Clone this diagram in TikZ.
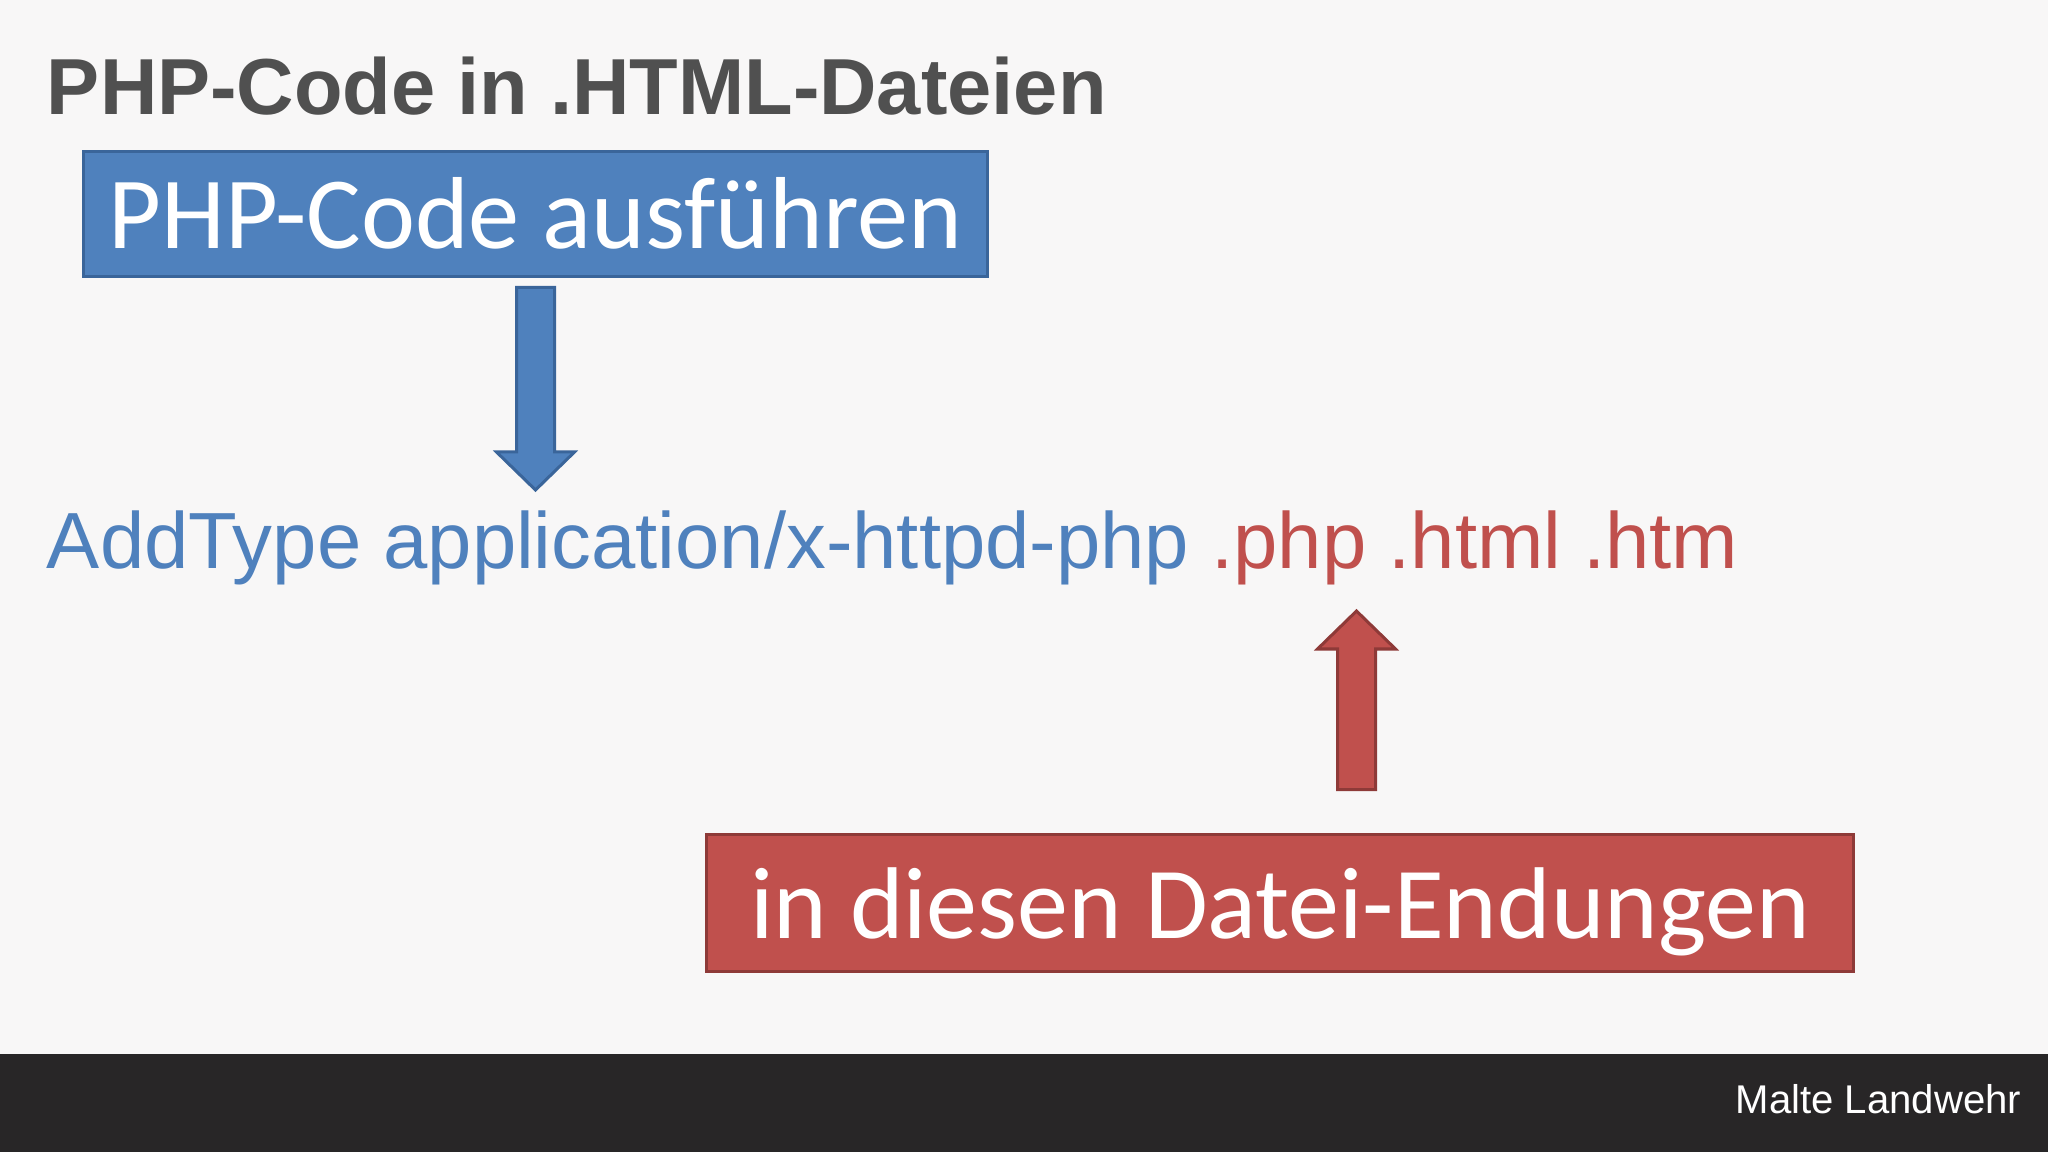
\documentclass[tikz,border=0pt]{standalone}
\usepackage{fontspec}
\setmainfont{Liberation Sans}
\newfontfamily\calibri{Carlito}
\usetikzlibrary{calc}
\definecolor{bg}{HTML}{F8F7F7}
\definecolor{bar}{HTML}{282627}
\definecolor{titlegray}{HTML}{505050}
\definecolor{bluef}{HTML}{4F81BD}
\definecolor{blued}{HTML}{3A659A}
\definecolor{redf}{HTML}{C0504D}
\definecolor{redd}{HTML}{8E3A38}
\tikzset{
  box/.style={inner xsep=0pt, inner ysep=0pt, line width=0.035cm, text=white, font=\calibri},
  blockarrow/.style={line width=0.03cm, line join=miter},
  plain/.style={inner sep=0pt, outer sep=0pt}
}
\begin{document}
\begin{tikzpicture}[x=0.01cm,y=-0.01cm]
\fill[bg] (0,0) rectangle (2048,1152);
\fill[bar] (0,1054) rectangle (2048,1152);
\useasboundingbox (0,0) rectangle (2048,1152);

\node[plain, anchor=base west, text=titlegray, font=\fontsize{22.6}{27}\selectfont\bfseries] (title) at (47,115) {PHP-Code in .HTML-Dateien};

\node[box, fill=bluef, draw=blued, minimum width=9.035cm, text height=0.965cm, text depth=0.285cm, font=\calibri\fontsize{29.1}{34}\selectfont] (exec) at (535.5,214) {PHP-Code ausführen};

\node[plain, anchor=base west, font=\fontsize{22.65}{27}\selectfont] (cmd) at (47,569) {\textcolor{bluef}{AddType application/x-httpd-php} \textcolor{redf}{.php .html .htm}};

\node[box, fill=redf, draw=redd, minimum width=11.465cm, text height=1.035cm, text depth=0.335cm, font=\calibri\fontsize{29.0}{34}\selectfont] (ext) at (1280,903) {in diesen Datei-Endungen};

\node[plain, anchor=base east, text=white, font=\fontsize{11.4}{14}\selectfont] (author) at (2021,1113) {Malte Landwehr};

% blue block arrow
\coordinate (b1) at ($(exec.south)+(0,9)$);
\coordinate (b2) at (535.5,490);
\draw[blockarrow, fill=bluef, draw=blued]
  ($(b1)+(-19,0)$) -- ($(b1)+(19,0)$) -- ($(b2)+(19,-38)$) -- ($(b2)+(39,-38)$) -- (b2)
  -- ($(b2)+(-39,-38)$) -- ($(b2)+(-19,-38)$) -- cycle;

% red block arrow
\coordinate (r1) at ($(ext.north)+(76.5,-43)$);
\coordinate (r2) at (1356.5,611);
\draw[blockarrow, fill=redf, draw=redd]
  ($(r1)+(-19,0)$) -- ($(r1)+(19,0)$) -- ($(r2)+(19,38)$) -- ($(r2)+(39,38)$) -- (r2)
  -- ($(r2)+(-39,38)$) -- ($(r2)+(-19,38)$) -- cycle;
\end{tikzpicture}
\end{document}
